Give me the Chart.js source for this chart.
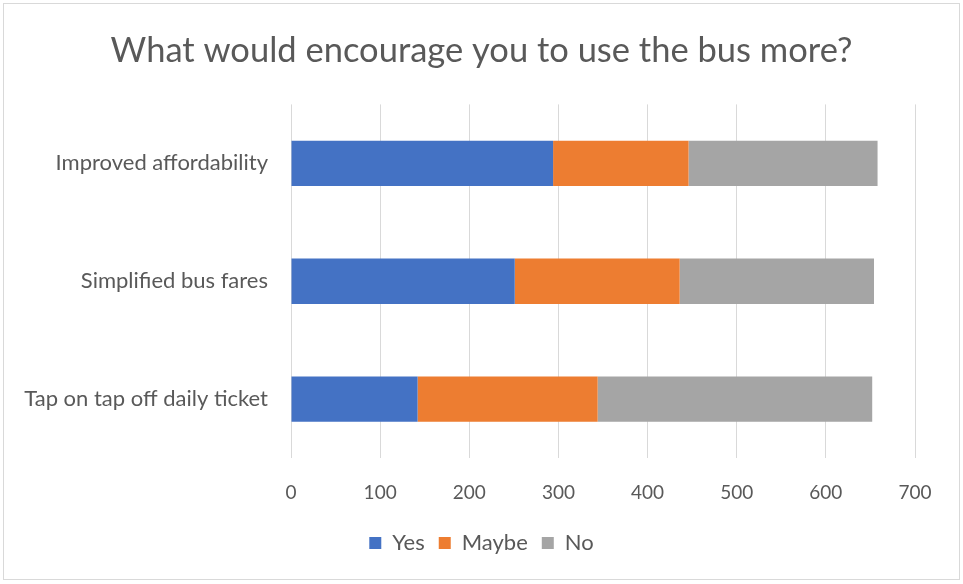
<!DOCTYPE html>
<html>
<head>
<meta charset="utf-8">
<script src="https://cdn.jsdelivr.net/npm/chart.js@4"></script>
<style>
  body { margin: 0; background: #fff; }
  #wrap { position: relative; width: 963px; height: 584px; }
  #frame { position: absolute; left: 3px; top: 3px; width: 955px; height: 575px; border: 1px solid #d9d9d9; pointer-events: none; }
</style>
</head>
<body>
<div id="wrap">
  <canvas id="busChart" width="963" height="584"></canvas>
  <div id="frame"></div>
</div>
<script>
// Survey data
const categories = ['Improved affordability', 'Simplified bus fares', 'Tap on tap off daily ticket'];
const yesValues = [294, 251, 142];
const maybeValues = [152, 185, 202];
const noValues = [212, 218, 308];
const xTicks = [0, 100, 200, 300, 400, 500, 600, 700];

const FONT = 'Lato, "Open Sans", sans-serif';
const GREY_TEXT = '#595959';

// Category labels are wider than the y axis box, so let them overflow to the left
const unclipLabels = {
  id: 'unclipLabels',
  afterLayout: function(chart) {
    chart.scales.y.left = 0;
  }
};

document.addEventListener('DOMContentLoaded', function() {
  const canvasElement = document.getElementById('busChart');

  new Chart(canvasElement, {
    type: 'bar',
    data: {
      labels: categories,
      datasets: [
        { label: 'Yes', data: yesValues, backgroundColor: '#4472c4' },
        { label: 'Maybe', data: maybeValues, backgroundColor: '#ed7d31' },
        { label: 'No', data: noValues, backgroundColor: '#a5a5a5' }
      ]
    },
    options: {
      indexAxis: 'y',
      responsive: false,
      animation: false,
      layout: {
        padding: { left: 48, right: 48, top: 0, bottom: 20 }
      },
      datasets: {
        bar: { categoryPercentage: 1, barPercentage: 0.385 }
      },
      scales: {
        x: {
          stacked: true,
          min: 0,
          max: 700,
          afterBuildTicks: function(scale) {
            scale.ticks = xTicks.map(v => ({ value: v }));
          },
          afterFit: function(scale) {
            scale.height = 60;
          },
          grid: { color: '#d9d9d9', lineWidth: 1, drawTicks: false },
          border: { display: false },
          ticks: {
            color: GREY_TEXT,
            font: { family: FONT, size: 19 },
            padding: 23
          }
        },
        y: {
          stacked: true,
          grid: { display: false, drawTicks: false },
          border: { display: false },
          afterFit: function(scale) {
            scale.width = 243;
          },
          ticks: {
            color: GREY_TEXT,
            font: { family: FONT, size: 22 },
            padding: 23
          }
        }
      },
      plugins: {
        title: {
          display: true,
          text: 'What would encourage you to use the bus more?',
          color: GREY_TEXT,
          font: { family: FONT, size: 34.5, weight: 'normal' },
          padding: { top: 30, bottom: 33 }
        },
        legend: {
          position: 'bottom',
          labels: {
            color: GREY_TEXT,
            font: { family: FONT, size: 22 },
            boxWidth: 12,
            boxHeight: 12,
            padding: 14
          }
        },
        tooltip: { enabled: false }
      }
    },
    plugins: [unclipLabels]
  });
});
</script>
</body>
</html>
